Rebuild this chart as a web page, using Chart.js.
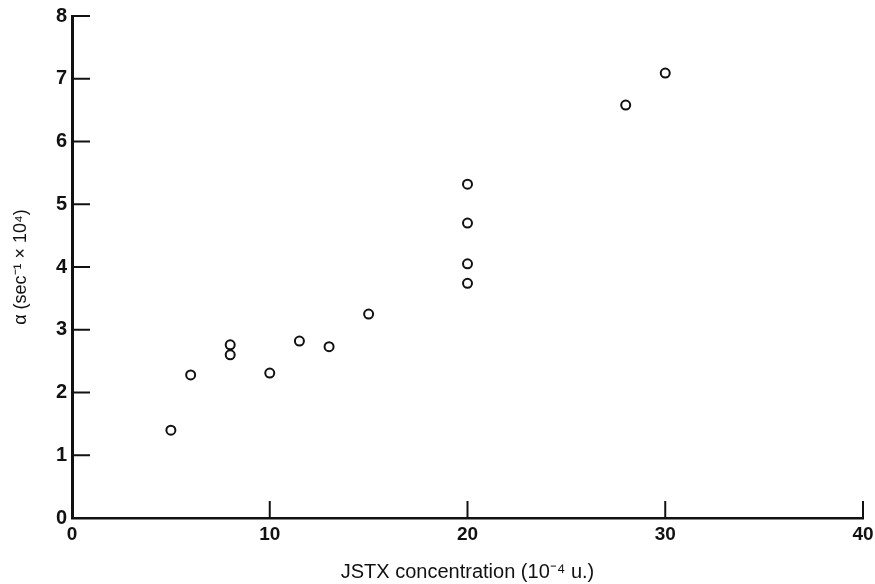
<!DOCTYPE html>
<html>
<head>
<meta charset="utf-8">
<script src="https://cdn.jsdelivr.net/npm/chart.js@4/dist/chart.umd.min.js"></script>
<style>
  html, body { margin: 0; padding: 0; background: #fff; }
  #wrap { width: 875px; height: 584px; }
</style>
</head>
<body>
<div id="wrap"><canvas id="jstx"></canvas></div>
<script>
// JSTX concentration (10^-4 u.) vs alpha (sec^-1 x 10^4)
const concentration = [5, 6, 8, 8, 10, 11.5, 13, 15, 20, 20, 20, 20, 28, 30];
const alpha = [1.4, 2.28, 2.76, 2.6, 2.31, 2.82, 2.73, 3.25, 5.32, 4.7, 4.05, 3.74, 6.58, 7.09];
const xTicks = [0, 10, 20, 30, 40];
const yTicks = [0, 1, 2, 3, 4, 5, 6, 7, 8];

const points = concentration.map((x, i) => ({ x: x, y: alpha[i] }));

// short tick marks drawn inward from the axes
const innerTicks = {
  id: 'innerTicks',
  afterDraw(chart) {
    const ctx = chart.ctx;
    const xs = chart.scales.x;
    const ys = chart.scales.y;
    ctx.save();
    ctx.strokeStyle = '#111';
    ctx.lineWidth = 2;
    xTicks.forEach((v) => {
      if (v === 0) return;
      const px = xs.getPixelForValue(v);
      ctx.beginPath();
      ctx.moveTo(px, ys.bottom);
      ctx.lineTo(px, ys.bottom - 17);
      ctx.stroke();
    });
    yTicks.forEach((v) => {
      if (v === 0) return;
      const py = ys.getPixelForValue(v);
      ctx.beginPath();
      ctx.moveTo(xs.left, py);
      ctx.lineTo(xs.left + 18, py);
      ctx.stroke();
    });
    ctx.restore();
  },
};

const fam = 'Liberation Sans, Arial, sans-serif';

new Chart(document.getElementById('jstx'), {
  type: 'scatter',
  data: {
    datasets: [
      {
        data: points,
        pointStyle: 'circle',
        pointRadius: 4.5,
        pointBorderWidth: 2,
        pointBorderColor: '#111',
        pointBackgroundColor: '#fff',
      },
    ],
  },
  options: {
    responsive: true,
    maintainAspectRatio: false,
    animation: false,
    layout: { autoPadding: false, padding: { top: 16, right: 12, left: 0, bottom: 0 } },
    plugins: {
      legend: { display: false },
      tooltip: { enabled: false },
    },
    scales: {
      x: {
        type: 'linear',
        min: 0,
        max: 40,
        afterBuildTicks: (s) => { s.ticks = xTicks.map((v) => ({ value: v })); },
        afterFit: (s) => { s.height = 66; s.paddingLeft = 0; s.paddingRight = 0; },
        grid: { display: false, drawTicks: false },
        border: { display: true, color: '#111', width: 2.5 },
        ticks: {
          color: '#111',
          padding: 5,
          font: { family: fam, size: 19, weight: 'bold' },
        },
        title: {
          display: true,
          text: 'JSTX concentration (10\u207B\u2074 u.)',
          color: '#111',
          padding: { top: 0, bottom: 0 },
          font: { family: fam, size: 20 },
        },
      },
      y: {
        type: 'linear',
        min: 0,
        max: 8,
        afterBuildTicks: (s) => { s.ticks = yTicks.map((v) => ({ value: v })); },
        afterFit: (s) => { s.width = 72; s.paddingTop = 0; s.paddingBottom = 0; },
        grid: { display: false, drawTicks: false },
        border: { display: true, color: '#111', width: 3 },
        ticks: {
          color: '#111',
          padding: 5,
          font: { family: fam, size: 20, weight: 'bold' },
        },
        title: {
          display: true,
          text: '\u03B1 (sec\u207B\u00B9 \u00D7 10\u2074)',
          color: '#111',
          padding: { top: 10, bottom: 0 },
          font: { family: fam, size: 18 },
        },
      },
    },
  },
  plugins: [innerTicks],
});
</script>
</body>
</html>
